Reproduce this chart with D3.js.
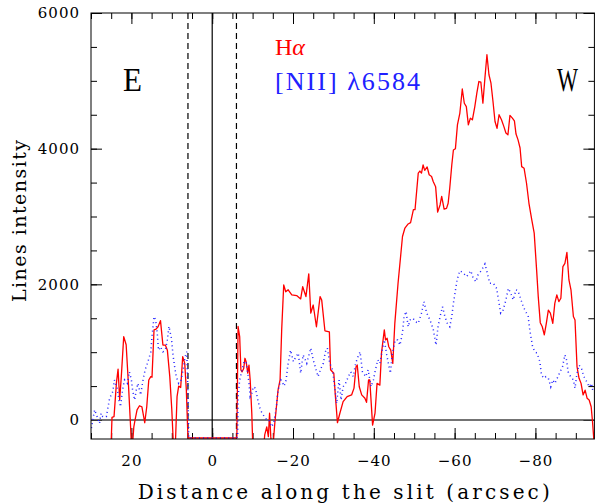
<!DOCTYPE html>
<html>
<head>
<meta charset="utf-8">
<script src="https://cdn.jsdelivr.net/npm/d3@7"></script>
<style>
  body { margin: 0; background: #fff; }
  svg { display: block; }
</style>
</head>
<body>
<div id="chart"></div>
<script>
// Halpha profile along the slit (arcsec, intensity); -265 = masked centre, -500 = off the bottom
var haDist = [30.0, 25.1, 24.8, 24.3, 24.0, 23.7, 23.3, 22.9, 22.5, 21.9, 21.3, 20.7, 20.2, 19.9, 19.4, 19.1, 18.6, 18.0, 17.4, 16.7,
  16.2, 15.7, 15.2, 14.9, 14.4, 13.9, 13.4, 12.8, 12.2, 11.6, 11.1, 10.5, 10.0, 9.5, 9.2, 8.7, 8.3, 7.8, 7.3, 6.8, 6.4, 6.0,
  -6.1, -6.4, -6.8, -7.1, -7.4, -7.8, -8.1, -8.4, -8.8, -9.1, -9.4, -9.8, -10.1, -12.6, -13.0, -13.5, -13.9, -14.2, -14.5, -14.9,
  -15.5, -15.9, -16.3, -16.8, -17.2, -17.7, -18.2, -18.8, -19.7, -20.9, -21.9, -22.4, -23.2, -23.9, -24.4, -25.0, -25.8, -26.7,
  -27.1, -27.9, -29.0, -29.3, -30.1, -30.5, -31.0, -31.6, -32.4, -33.4, -34.5, -35.1, -35.6, -35.9, -36.4, -37.0, -37.8, -38.2,
  -38.7, -39.0, -39.7, -40.3, -40.8, -41.5, -41.9, -42.6, -42.9, -43.3, -43.7, -44.2, -44.7, -45.2, -46.0, -47.1, -47.7, -48.5,
  -49.1, -49.8, -50.2, -51.0, -51.4, -51.8, -52.2, -52.6, -53.2, -53.7, -54.3, -54.7, -55.3, -55.8, -56.4, -56.8, -57.4, -58.0,
  -58.4, -58.8, -59.3, -59.7, -60.2, -60.7, -61.3, -61.9, -62.4, -62.9, -63.4, -63.9, -64.4, -65.0, -65.5, -66.0, -66.5, -67.0,
  -67.5, -68.0, -68.5, -69.0, -69.5, -70.0, -70.5, -71.0, -71.6, -72.2, -72.7, -73.2, -73.7, -74.3, -74.8, -75.2, -75.7, -76.2,
  -76.6, -77.2, -77.8, -78.4, -79.1, -79.7, -80.3, -80.7, -81.2, -81.7, -82.2, -82.7, -83.2, -83.7, -84.3, -84.8, -85.3, -85.8,
  -86.3, -86.8, -87.3, -87.8, -88.3, -88.8, -89.4, -89.8, -90.3, -90.8, -91.3, -91.8, -92.3, -92.8, -93.3, -93.8, -94.1, -94.6]
var haFlux = [-500, -500, 40, 50, 300, 550, 750, 300, 640, 1230, 1110, 490, -100, -500, -100, 0, 150, 210, 195, -40,
  195, 590, 640, 630, 1330, 1340, 1375, 1465, 1105, 1105, 1030, 640, 150, -500, -500, 345, 500, 480, 935, 835, 440, -265,
  -265, 1380, 1230, 740, 710, 760, 910, 860, 690, 810, 590, 100, -500, -500, -220, -100, -245, 100, -245, -500,
  -45, 195, 440, 590, 1330, 1990, 1890, 1920, 1845, 1835, 1785, 1965, 1820, 2155, 1575, 1695, 1375, 1820,
  1770, 1315, 1300, 740, 690, 345, -40, 100, 270, 345, 370, 470, 785, 810, 490, 370, 320, 260,
  590, 590, -75, 100, 540, 515, 985, 1330, 1180, 1205, 1080, 1030, 835, 1425, 2015, 2705, 2830, 2890,
  2910, 3100, 3100, 3640, 3670, 3640, 3760, 3680, 3730, 3615, 3590, 3515, 3440, 3065, 3170, 3295, 3110, 3120,
  3195, 3420, 3760, 3980, 4000, 4350, 4525, 4880, 4670, 4620, 4350, 4450, 4425, 4620, 4820, 4990, 4980, 4670,
  5040, 5385, 5090, 4965, 4695, 4400, 4300, 4500, 4425, 4325, 4230, 4205, 4490, 4450, 4410, 4215, 4130, 4010,
  3735, 3710, 3490, 3195, 2950, 2755, 2210, 1820, 1435, 1375, 1255, 1425, 1620, 1575, 1425, 1720, 1845, 1745,
  1795, 2260, 2310, 2470, 2065, 1920, 1525, 1475, 785, 615, 540, 370, 440, 320, 295, 195, 0, -400]

// [NII] 6584 profile
var niiDist = [29.9, 29.1, 28.5, 27.9, 27.5, 27.1, 26.2, 25.4, 24.6, 24.2, 23.5, 23.1, 22.7, 22.2, 21.7, 21.0, 20.5, 20.0, 19.7, 19.2,
  18.8, 18.4, 17.7, 17.2, 16.6, 15.9, 15.2, 14.9, 14.4, 14.0, 13.6, 13.3, 12.8, 12.2, 11.6, 11.1, 10.7, 10.1, 9.7, 9.3,
  8.9, 8.3, 7.7, 7.2, 6.7, 6.3, 6.0, 5.8, -6.0, -6.3, -6.4, -6.8, -7.1, -7.4, -7.9, -8.4, -8.8, -9.1, -9.4, -9.8,
  -10.2, -10.7, -11.2, -11.7, -12.2, -12.9, -13.5, -14.0, -14.7, -15.2, -15.5, -15.9, -16.2, -16.5, -17.0, -17.3, -17.8, -18.3, -18.7, -19.4,
  -20.1, -20.7, -21.3, -21.9, -22.5, -23.4, -24.4, -25.0, -25.5, -26.2, -26.9, -27.5, -28.0, -28.5, -29.1, -29.8, -30.2, -30.8, -31.4, -31.9,
  -32.4, -33.0, -33.7, -34.3, -34.9, -35.5, -36.1, -36.6, -37.2, -38.0, -38.6, -39.3, -39.9, -40.4, -41.0, -41.5, -42.1, -42.6, -43.2, -43.6,
  -44.1, -44.6, -45.3, -45.9, -46.5, -47.1, -47.5, -48.0, -48.5, -49.0, -49.7, -50.3, -51.0, -51.8, -52.4, -53.1, -53.9, -54.7, -55.4, -55.9,
  -56.5, -57.0, -57.6, -58.2, -58.8, -59.3, -59.7, -60.1, -60.6, -61.3, -62.1, -63.0, -64.0, -64.6, -65.3, -65.8, -66.7, -67.5, -68.1, -68.7,
  -69.6, -70.4, -70.8, -71.4, -72.0, -72.7, -73.3, -73.9, -74.5, -75.2, -75.7, -76.3, -77.0, -77.8, -78.2, -78.6, -79.3, -79.9, -80.4, -81.1,
  -81.5, -82.1, -82.6, -83.2, -83.8, -84.3, -84.8, -85.4, -86.1, -86.7, -87.3, -87.7, -88.1, -88.7, -89.4, -89.8, -90.3, -90.8, -91.4, -92.0,
  -92.7, -93.3, -93.9, -94.3]
var niiFlux = [-120, 150, 50, -50, 100, 50, 50, 320, 420, 590, 470, 295, 195, 440, 590, 540, 710, 590, 440, 295,
  440, 540, 370, 565, 740, 860, 1005, 1230, 1525, 1475, 1280, 1030, 1080, 1005, 1030, 1180, 1380, 1205, 960, 785,
  640, 540, 590, 740, 935, 1005, 395, -265, -265, -245, 345, 590, 665, 740, 860, 860, 690, 540, 345, 395,
  490, 470, 320, 195, 120, 50, 0, 0, -100, -50, 50, 195, 395, 490, 590, 565, 500, 590, 800, 1030,
  860, 930, 985, 690, 960, 835, 1060, 885, 785, 640, 760, 835, 1005, 1060, 835, 740, 540, 245, 590, 295,
  490, 540, 640, 710, 640, 835, 935, 1005, 710, 640, 740, 490, 590, 740, 885, 835, 1030, 1180, 960, 835,
  690, 985, 1180, 1180, 1105, 1290, 1525, 1600, 1375, 1475, 1500, 1450, 1425, 1575, 1745, 1575, 1475, 1340, 1105, 1375,
  1550, 1670, 1525, 1425, 1375, 1525, 1720, 1870, 2065, 2200, 2170, 2115, 2200, 2090, 2040, 2140, 2210, 2300, 2165, 2015,
  2015, 1940, 1795, 1575, 1620, 1770, 1940, 1870, 1770, 1920, 1905, 1795, 1670, 1575, 1525, 1330, 1080, 1005, 985, 860,
  665, 615, 640, 615, 490, 590, 540, 615, 710, 785, 960, 885, 710, 640, 590, 470, 690, 810, 760, 640,
  565, 490, 540, 395]

var xMajor = [20, 0, -20, -40, -60, -80]
var xMinor = d3.range(30, -95, -5)
var yMajor = [0, 2000, 4000, 6000]
var yMinor = d3.range(0, 6001, 500)
var slitEdges = [6, -6]

var svg = d3.select("#chart").append("svg")
  .attr("width", 595)
  .attr("height", 503)

var x = d3.scaleLinear().domain([30, -94.6]).range([91, 594.4])
var y = d3.scaleLinear().domain([-280, 6000]).range([439, 13])

var x0 = x.range()[0], x1 = x.range()[1], yTop = y.range()[1], yBot = y.range()[0]

svg.append("clipPath").attr("id", "plotArea")
  .append("rect")
  .attr("x", x0).attr("y", yTop)
  .attr("width", x1 - x0).attr("height", yBot - yTop)

var tickFont = "'DejaVu Serif', serif"

function styleAxis(g) {
  g.select(".domain").remove()
  g.selectAll(".tick line").attr("stroke", "#000").attr("stroke-width", 1)
  g.selectAll("text")
    .attr("font-family", tickFont)
    .attr("font-size", 15)
    .attr("letter-spacing", 1)
    .attr("fill", "#000")
}

function fmt(d) { return d < 0 ? "\u2212" + Math.abs(d) : String(d) }

// bottom axis
svg.append("g").attr("transform", "translate(0," + yBot + ")")
  .call(d3.axisBottom(x).tickValues(xMinor).tickSize(-6).tickFormat(""))
  .call(styleAxis)
svg.append("g").attr("transform", "translate(0," + yBot + ")")
  .call(d3.axisBottom(x).tickValues(xMajor).tickSize(-11).tickPadding(16).tickFormat(fmt))
  .call(styleAxis)
// top axis
svg.append("g").attr("transform", "translate(0," + yTop + ")")
  .call(d3.axisTop(x).tickValues(xMinor).tickSize(-6).tickFormat(""))
  .call(styleAxis)
svg.append("g").attr("transform", "translate(0," + yTop + ")")
  .call(d3.axisTop(x).tickValues(xMajor).tickSize(-11).tickFormat(""))
  .call(styleAxis)
// left axis
svg.append("g").attr("transform", "translate(" + x0 + ",0)")
  .call(d3.axisLeft(y).tickValues(yMinor).tickSize(-6).tickFormat(""))
  .call(styleAxis)
svg.append("g").attr("transform", "translate(" + x0 + ",0)")
  .call(d3.axisLeft(y).tickValues(yMajor).tickSize(-11).tickPadding(11).tickFormat(fmt))
  .call(styleAxis)
// right axis
svg.append("g").attr("transform", "translate(" + x1 + ",0)")
  .call(d3.axisRight(y).tickValues(yMinor).tickSize(-6).tickFormat(""))
  .call(styleAxis)
svg.append("g").attr("transform", "translate(" + x1 + ",0)")
  .call(d3.axisRight(y).tickValues(yMajor).tickSize(-11).tickFormat(""))
  .call(styleAxis)

// zero level and slit markers
svg.append("line")
  .attr("x1", x0).attr("x2", x1)
  .attr("y1", y(0)).attr("y2", y(0))
  .attr("stroke", "#444").attr("stroke-width", 1.5)

svg.append("line")
  .attr("x1", x(0)).attr("x2", x(0))
  .attr("y1", yTop).attr("y2", yBot)
  .attr("stroke", "#000").attr("stroke-width", 1.2)

svg.selectAll(".edge").data(slitEdges).enter().append("line")
  .attr("class", "edge")
  .attr("x1", function(d) { return x(d) }).attr("x2", function(d) { return x(d) })
  .attr("y1", yTop).attr("y2", yBot)
  .attr("stroke", "#000").attr("stroke-width", 1.2)
  .attr("stroke-dasharray", "6,4")

var line = d3.line()
  .x(function(d) { return x(d[0]) })
  .y(function(d) { return y(d[1]) })

var haPts = haDist.map(function(d, i) { return [d, haFlux[i]] })
var niiPts = niiDist.map(function(d, i) { return [d, niiFlux[i]] })

var plot = svg.append("g").attr("clip-path", "url(#plotArea)")

plot.append("path").datum(haPts)
  .attr("d", line)
  .attr("fill", "none")
  .attr("stroke", "#ff0000")
  .attr("stroke-width", 1.3)
  .attr("stroke-linejoin", "round")

plot.append("path").datum(niiPts)
  .attr("d", line)
  .attr("fill", "none")
  .attr("stroke", "#2020ff")
  .attr("stroke-width", 1.5)
  .attr("stroke-dasharray", "1,3.2")

// frame
svg.append("rect")
  .attr("x", x0).attr("y", yTop)
  .attr("width", x1 - x0).attr("height", yBot - yTop)
  .attr("fill", "none").attr("stroke", "#000").attr("stroke-width", 1)

// axis titles
svg.append("text")
  .attr("x", (x0 + x1) / 2 + 1).attr("y", 499)
  .attr("text-anchor", "middle")
  .attr("font-family", tickFont).attr("font-size", 20)
  .attr("textLength", 412).attr("lengthAdjust", "spacing")
  .text("Distance along the slit (arcsec)")

svg.append("text")
  .attr("transform", "translate(26,221) rotate(-90)")
  .attr("text-anchor", "middle")
  .attr("font-family", tickFont).attr("font-size", 19)
  .attr("textLength", 162).attr("lengthAdjust", "spacing")
  .text("Lines intensity")

// legend and E / W marks
var serif = "'Liberation Serif', 'Times New Roman', serif"
var ha = svg.append("text")
  .attr("x", 275).attr("y", 55)
  .attr("font-family", serif).attr("font-size", 24)
  .attr("fill", "#ff0000")
ha.append("tspan").text("H")
ha.append("tspan").attr("font-style", "italic").text("\u03b1")

svg.append("text")
  .attr("x", 275).attr("y", 90)
  .attr("font-family", serif).attr("font-size", 26)
  .attr("fill", "#2020ff")
  .attr("textLength", 145).attr("lengthAdjust", "spacing")
  .text("[NII]  \u03bb6584")

svg.append("text")
  .attr("x", 123).attr("y", 91)
  .attr("font-family", serif).attr("font-size", 34)
  .attr("textLength", 19).attr("lengthAdjust", "spacingAndGlyphs")
  .text("E")

svg.append("text")
  .attr("x", 557).attr("y", 91)
  .attr("font-family", serif).attr("font-size", 34)
  .attr("textLength", 21).attr("lengthAdjust", "spacingAndGlyphs")
  .text("W")
</script>
</body>
</html>
